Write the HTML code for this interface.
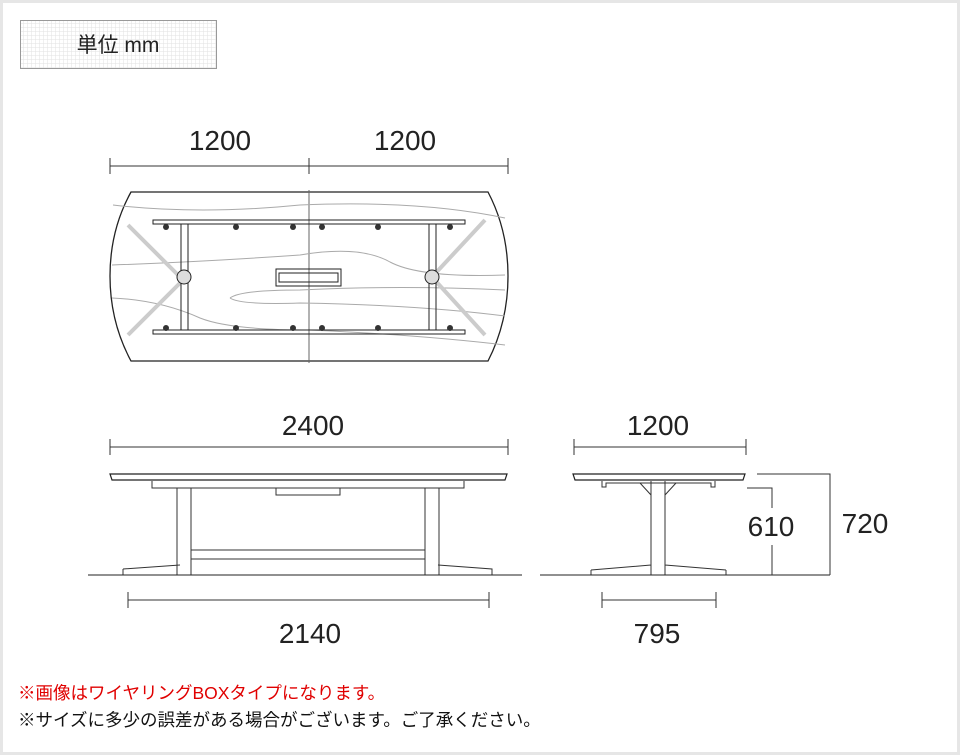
<!DOCTYPE html>
<html><head><meta charset="utf-8"><style>
body{margin:0;background:#fff}
.wrap{position:relative;width:960px;height:755px;overflow:hidden}
svg{position:absolute;left:0;top:0}
.n{font-family:"Liberation Sans",sans-serif;font-size:28px;fill:#222}
.j{font-family:"Liberation Sans","Noto Sans CJK JP",sans-serif;font-size:17.5px}
</style></head><body><div class="wrap">
<svg width="960" height="755" viewBox="0 0 960 755">
<defs><pattern id="g" width="4" height="4" patternUnits="userSpaceOnUse"><path d="M4 0V4H0" fill="none" stroke="#e2e2e2" stroke-width="1"/></pattern></defs>
<rect x="1.5" y="1.5" width="957" height="752" fill="#fff" stroke="#e6e6e6" stroke-width="3"/>
<rect x="20.5" y="20.5" width="196" height="48" fill="url(#g)" stroke="#999"/>
<text x="118" y="52" text-anchor="middle" class="j" style="font-size:21px" fill="#222">単位 mm</text>
<g fill="none" stroke="#333" stroke-width="1">
<path d="M110 166H508M110 158V174M309 158V174M508 158V174"/>
<path d="M131 192H488Q508 230 508 276Q508 322 488 361H131Q110 322 110 276Q110 230 131 192Z" stroke="#222" stroke-width="1.3"/>
<path d="M309 190V363" stroke="#666"/>
<g stroke="#aaa"><path d="M113 205Q200 215 300 205Q420 200 505 218"/><path d="M112 265Q200 262 300 255Q360 245 390 262Q420 278 505 275"/><path d="M230 298Q240 290 300 290Q400 285 505 290M230 298Q240 305 300 303Q420 305 505 316"/><path d="M112 298Q160 300 200 318Q230 330 310 330Q420 335 505 345"/><path d="M128 225L183 280L128 335M485 220L432 277L485 335" stroke-width="4" stroke="#ccc"/></g>
<g stroke="#222"><rect x="153" y="220" width="312" height="4"/><rect x="153" y="330" width="312" height="4"/><rect x="181" y="224" width="7" height="106"/><rect x="429" y="224" width="7" height="106"/><circle cx="184" cy="277" r="7" fill="#ddd"/><circle cx="432" cy="277" r="7" fill="#ddd"/><rect x="276" y="269" width="65" height="17"/><rect x="279" y="273" width="59" height="9"/></g>
<g fill="#333" stroke="none"><circle cx="166" cy="227" r="3"/><circle cx="236" cy="227" r="3"/><circle cx="293" cy="227" r="3"/><circle cx="322" cy="227" r="3"/><circle cx="378" cy="227" r="3"/><circle cx="450" cy="227" r="3"/><circle cx="166" cy="328" r="3"/><circle cx="236" cy="328" r="3"/><circle cx="293" cy="328" r="3"/><circle cx="322" cy="328" r="3"/><circle cx="378" cy="328" r="3"/><circle cx="450" cy="328" r="3"/></g>
<path d="M110 447H508M110 439V455M508 439V455"/>
<path d="M110 474H507L505 480H112Z" stroke="#222" stroke-width="1.2"/>
<path d="M152 481V488H464V481M276 488V495H340V488"/>
<path d="M177 488V575M191 488V575M425 488V575M439 488V575M191 550H425M191 559H425"/>
<path d="M123 569V575M123 569L180 565M124 575H180M438 565L492 569V575"/>
<path d="M88 575H522" stroke="#222"/>
<path d="M128 600H489M128 592V608M489 592V608"/>
<path d="M574 447H746M574 439V455M746 439V455"/>
<path d="M573 474H745L743 480H575Z" stroke="#222" stroke-width="1.2"/>
<path d="M602 481V487H606V483H711V487H715V481M640 483L651 495M676 483L665 495"/>
<path d="M651 481V575M665 481V575M591 570L651 565M591 570V575M726 570L665 565M726 570V575"/>
<path d="M540 575H830" stroke="#222"/>
<path d="M757 474H830V575M747 488H772V508M772 545V575"/>
<path d="M602 600H716M602 592V608M716 592V608"/>
</g>
<text x="220" y="150" text-anchor="middle" class="n">1200</text>
<text x="405" y="150" text-anchor="middle" class="n">1200</text>
<text x="313" y="435" text-anchor="middle" class="n">2400</text>
<text x="658" y="435" text-anchor="middle" class="n">1200</text>
<text x="310" y="643" text-anchor="middle" class="n">2140</text>
<text x="657" y="643" text-anchor="middle" class="n">795</text>
<text x="771" y="536" text-anchor="middle" class="n">610</text>
<text x="865" y="533" text-anchor="middle" class="n">720</text>
<text x="18" y="699" class="j" fill="#e00000">※画像はワイヤリングBOXタイプになります。</text>
<text x="18" y="726" class="j" fill="#111">※サイズに多少の誤差がある場合がございます。ご了承ください。</text>
</svg></div></body></html>
